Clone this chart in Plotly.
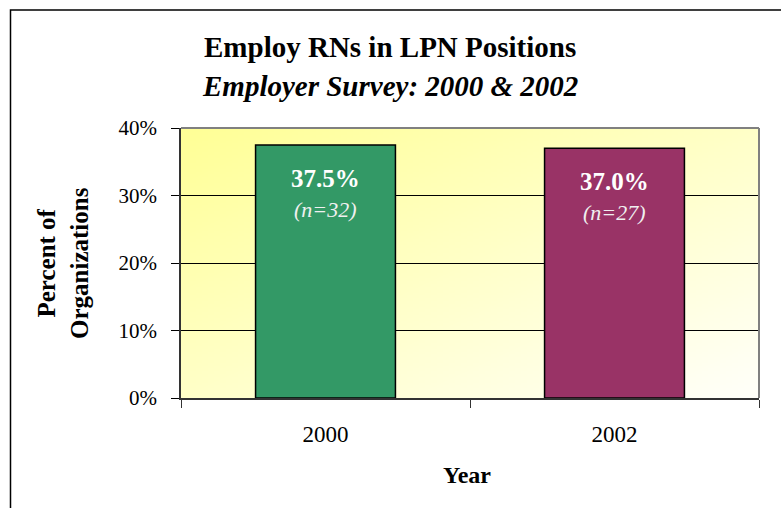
import base64
import struct
import zlib

import plotly.graph_objects as go

# ---- data ----
years = ["2000", "2002"]
percent = [37.5, 37.0]
n_orgs = [32, 27]
bar_colors = ["#339966", "#993366"]
y_ticks = [0, 10, 20, 30, 40]

title = "Employ RNs in LPN Positions"
subtitle = "Employer Survey: 2000 & 2002"
x_title = "Year"
y_title_lines = ["Percent of", "Organizations"]

# ---- geometry (pixels) ----
W, H = 781, 508
L, R, T, B = 181, 22, 128, 110
PW, PH = W - L - R, H - T - B
SERIF = "Liberation Serif, Times New Roman, serif"


def px_x(px):
    return (px - L) / PW


def px_y(py):
    return (H - B - py) / PH


def gradient_png(w=96, h=96):
    c0 = (255, 255, 150)
    c1 = (255, 255, 250)
    rows = b""
    for j in range(h):
        row = b"\x00"
        for i in range(w):
            t = (i / (w - 1)) * 0.5 + (j / (h - 1)) * 0.5
            row += bytes(int(round(c0[k] + (c1[k] - c0[k]) * t)) for k in range(3))
        rows += row

    def chunk(tag, data):
        c = tag + data
        return struct.pack(">I", len(data)) + c + struct.pack(">I", zlib.crc32(c) & 0xFFFFFFFF)

    png = b"\x89PNG\r\n\x1a\n"
    png += chunk(b"IHDR", struct.pack(">IIBBBBB", w, h, 8, 2, 0, 0, 0))
    png += chunk(b"IDAT", zlib.compress(rows, 9))
    png += chunk(b"IEND", b"")
    return "data:image/png;base64," + base64.b64encode(png).decode()


fig = go.Figure()
fig.add_trace(go.Bar(
    x=years, y=percent,
    marker=dict(color=bar_colors, line=dict(color="black", width=1.5)),
    hoverinfo="skip",
))

annotations = []
for idx, (v, n) in enumerate(zip(percent, n_orgs)):
    annotations.append(dict(x=idx, y=v, xref="x", yref="y", yanchor="top", yshift=-18,
                            text=f"<b>{v:.1f}%</b>", showarrow=False,
                            font=dict(family=SERIF, size=25, color="white")))
    annotations.append(dict(x=idx, y=v, xref="x", yref="y", yanchor="top", yshift=-50,
                            text=f"<i>(n={n})</i>", showarrow=False,
                            font=dict(family=SERIF, size=22, color="#f0f0f0")))

annotations += [
    dict(x=px_x(390), y=px_y(47), xref="paper", yref="paper", text=f"<b>{title}</b>",
         showarrow=False, xanchor="center", yanchor="middle",
         font=dict(family=SERIF, size=29, color="black")),
    dict(x=px_x(390), y=px_y(86), xref="paper", yref="paper", text=f"<b><i>{subtitle}</i></b>",
         showarrow=False, xanchor="center", yanchor="middle",
         font=dict(family=SERIF, size=29, color="black")),
    dict(x=px_x(467), y=px_y(475), xref="paper", yref="paper", text=f"<b>{x_title}</b>",
         showarrow=False, xanchor="center", yanchor="middle",
         font=dict(family=SERIF, size=24, color="black")),
    dict(x=px_x(63), y=0.5, xref="paper", yref="paper",
         text="<b>" + "<br>".join(y_title_lines) + "</b>", textangle=-90,
         showarrow=False, xanchor="center", yanchor="middle",
         font=dict(family=SERIF, size=25, color="black")),
]

shapes = [
    # outer chart border (runs off the right and bottom of the picture)
    dict(type="rect", xref="paper", yref="paper", x0=px_x(10.5), y0=px_y(530), x1=px_x(800), y1=px_y(10),
         line=dict(color="black", width=1.5), fillcolor="rgba(0,0,0,0)", layer="above"),
    # gray plot frame (top and right)
    dict(type="line", xref="paper", yref="paper", x0=0, x1=1, y0=1, y1=1,
         line=dict(color="#808080", width=2), layer="above"),
    dict(type="line", xref="paper", yref="paper", x0=1, x1=1, y0=0, y1=1,
         line=dict(color="#808080", width=2), layer="above"),
]

fig.update_layout(
    width=W, height=H,
    margin=dict(l=L, r=R, t=T, b=B),
    paper_bgcolor="white",
    plot_bgcolor="rgba(0,0,0,0)",
    showlegend=False,
    bargap=0.516,
    annotations=annotations,
    shapes=shapes,
    images=[dict(source=gradient_png(), xref="paper", yref="paper", x=0, y=1,
                 sizex=1, sizey=1, sizing="stretch", xanchor="left", yanchor="top",
                 layer="below")],
    xaxis=dict(
        type="category", categoryorder="array", categoryarray=years,
        range=[-0.5, len(years) - 0.5], autorange=False,
        tickson="boundaries", ticks="outside", ticklen=8, tickcolor="#333", tickangle=0,
        showline=True, linecolor="#333", linewidth=1.5, showgrid=False,
        tickfont=dict(family=SERIF, size=23, color="black"), ticklabelstandoff=15,
        fixedrange=True,
    ),
    yaxis=dict(
        range=[0, 40], autorange=False, tickvals=y_ticks, ticktext=[f"{t}%" for t in y_ticks],
        ticks="outside", ticklen=8, tickcolor="black",
        showline=True, linecolor="#333", linewidth=1.5,
        showgrid=True, gridcolor="black", gridwidth=1, zeroline=False,
        tickfont=dict(family=SERIF, size=21, color="black"), ticklabelstandoff=10,
        fixedrange=True,
    ),
)

fig.write_html("out.html", config={"displayModeBar": False})
